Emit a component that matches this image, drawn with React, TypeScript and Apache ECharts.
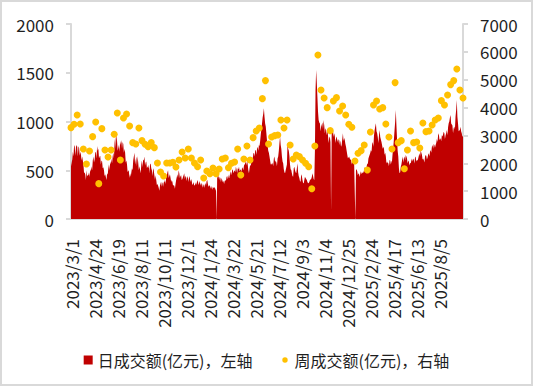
import React, { useEffect, useRef } from "react";
import * as echarts from "echarts";

// Exchange closures (weekdays) inside the plotted span
const holidays: string[] = [
  "2023-04-05", "2023-05-01", "2023-05-02", "2023-05-03", "2023-06-22", "2023-06-23",
  "2023-09-29", "2023-10-02", "2023-10-03", "2023-10-04", "2023-10-05", "2023-10-06",
  "2024-01-01", "2024-02-12", "2024-02-13", "2024-02-14", "2024-02-15", "2024-02-16",
  "2024-04-04", "2024-04-05", "2024-05-01", "2024-05-02", "2024-05-03", "2024-06-10",
  "2024-09-16", "2024-09-17", "2024-10-01", "2024-10-02", "2024-10-03", "2024-10-04",
  "2024-10-07", "2025-01-28", "2025-01-29", "2025-01-30", "2025-01-31", "2025-02-03",
  "2025-02-04", "2025-04-04", "2025-05-01", "2025-05-02", "2025-05-05", "2025-06-02",
];

// 日成交额(亿元) — daily, left axis
const daily2023: number[] = [
  540, 575, 610, 690, 640, 760, 740, 650, 735, 760,
  740, 640, 745, 730, 650, 690, 660, 600, 640, 600,
  560, 470, 480, 455, 400, 500, 440, 440, 455, 480,
  430, 510, 490, 540, 500, 600, 640, 580, 610, 680,
  690, 620, 750, 700, 720, 620, 640, 650, 560, 600,
  590, 520, 530, 500, 440, 460, 430, 400, 470, 455,
  520, 560, 500, 590, 560, 620, 570, 640, 680, 620,
  780, 840, 720, 880, 800, 700, 700, 760, 690, 800,
  760, 810, 720, 790, 770, 680, 720, 680, 580, 600,
  560, 480, 500, 486, 420, 470, 434, 480, 520, 500,
  600, 640, 680, 560, 600, 640, 540, 645, 580, 500,
  540, 505, 470, 560, 600, 530, 610, 600, 640, 550,
  580, 590, 520, 540, 520, 560, 470, 560, 570, 520,
  500, 440, 520, 500, 450, 400, 450, 400, 350, 360,
  340, 320, 290, 340, 380, 330, 380, 370, 330, 375,
  380, 400, 360, 430, 450, 480, 500, 420, 440, 460,
  420, 380, 400, 380, 340, 350, 340, 310, 360, 400,
  430, 460, 420, 500, 470, 420, 440, 450, 400, 410,
  430, 450, 470, 410, 440, 430, 390, 440, 420, 380,
  440, 420, 380, 410, 390, 350, 360, 380, 340, 350,
  360, 380, 350, 400, 385, 350,
];
const daily2024: number[] = [
  370, 390, 340, 370,
  360, 320, 360, 350, 320, 350, 370, 340, 390, 400,
  360, 330, 340, 345, 310, 340, 320, 300, 330, 320,
  315, 330, 290, 320, 0, 460, 420, 450, 400, 430,
  420, 380, 420, 400, 380, 390, 360, 390, 400, 390,
  430, 440, 410, 430, 460, 420, 470, 490, 450, 500,
  510, 470, 486, 500, 480, 537, 510, 470, 520, 510,
  537, 490, 500, 510, 480, 530, 520, 500, 550, 560,
  571, 590, 550, 605, 560, 500, 470, 520, 560, 540,
  600, 640, 600, 670, 680, 640, 700, 710, 660, 720,
  742, 700, 760, 750, 800, 870, 920, 980, 1040, 1080,
  1135, 1050, 980, 950, 880, 800, 760, 700, 680, 640,
  600, 560, 570, 554, 580, 540, 620, 640, 580, 600,
  580, 540, 620, 640, 700, 780, 845, 760, 720, 640,
  590, 571, 510, 480, 469, 500, 503, 560, 776, 720,
  700, 650, 560, 510, 503, 470, 440, 434, 520, 537,
  500, 480, 469, 520, 571, 480, 440, 420, 390, 383,
  460, 440, 400, 370, 366, 400, 434, 420, 410, 400,
  380, 366, 370, 380, 400, 400, 410, 430, 469, 440,
  410, 400, 700, 1320, 1529, 1400, 1255, 1100, 1016, 990,
  982, 900, 947, 950, 990, 920, 1016, 960, 880, 930,
  913, 860, 913, 860, 780, 830, 845, 790, 92, 913,
  900, 913, 840, 879, 850, 780, 830, 845, 790, 820,
  810, 760, 810, 790, 740, 760, 820, 879, 800, 830,
  810, 770, 742, 700, 660, 622, 630, 640, 620,
];
const daily2025: number[] = [
  610,
  605, 560, 610, 605, 560, 590, 588, 0, 503, 510,
  490, 450, 470, 460, 430, 470, 490, 460, 480, 469,
  480, 500, 537, 490, 503, 530, 571, 560, 620, 640,
  660, 680, 708, 690, 770, 790, 740, 860, 913, 950,
  982, 900, 879, 840, 780, 860, 913, 840, 840, 790,
  790, 720, 742, 720, 660, 680, 640, 570, 590, 575,
  571, 540, 605, 600, 560, 588, 600, 680, 742, 820,
  913, 1000, 1118, 960, 820, 700, 640, 520, 469, 480,
  537, 560, 600, 640, 580, 622, 640, 600, 657, 640,
  620, 570, 600, 588, 550, 575, 571, 600, 620, 590,
  620, 605, 570, 640, 630, 590, 605, 600, 620, 650,
  674, 640, 708, 680, 660, 610, 620, 605, 580, 640,
  657, 650, 610, 630, 660, 674, 640, 690, 708, 680,
  742, 760, 720, 770, 760, 730, 759, 780, 820, 790,
  860, 879, 820, 810, 830, 800, 860, 845, 870, 896,
  880, 820, 860, 880, 913, 860, 940, 982, 1000, 1040,
  1067, 980, 982, 960, 880, 930, 950, 920, 1050, 1118,
  1221, 1050, 980, 900, 900, 913, 947, 900, 880, 845, 850,
];
const dailyValues: number[] = [...daily2023, ...daily2024, ...daily2025];

// 周成交额(亿元) — weekly, right axis
const weeklyValues: number[] = [
  3280, 3400, 3735, 3411, 2514, 1975, 2442, 2957, 3483, 1269,
  3244, 2478, 2226, 2478, 3040, 3806, 2119, 3627, 3771, 3340,
  2741, 2693, 3268, 2813, 2681, 2597, 2741, 2562, 2011, 1688,
  1544, 2011, 2011, 2035, 1867, 2119, 2406, 2191, 2514, 2191,
  2011, 1879, 2119, 1472, 1724, 1628, 1831, 1628, 1796, 2155,
  2191, 1843, 1999, 2047, 2514, 1580, 2155, 2621, 2119, 2921,
  3160, 3268, 4321, 4968, 2693, 2945, 2993, 3016, 3555, 3268,
  3555, 2657, 2155, 2298, 2238, 2119, 1999, 1879, 1089, 2621,
  5889, 4632, 4345, 3998, 3172, 4237, 4357, 3878, 4058, 3735,
  3400, 3292, 2083, 2358, 2454, 2657, 1760, 3124, 4094, 4237,
  3950, 3998, 3411, 2945, 2514, 4896, 2741, 2813, 1807, 2478,
  3160, 2741, 2765, 2550, 3447, 3136, 3160, 3375, 3555, 3627,
  4249, 4094, 4453, 4824, 4968, 5387, 4632, 4345,
];

const seriesNames: string[] = ["日成交额(亿元)，左轴", "周成交额(亿元)，右轴"];
const leftAxisRange: number[] = [0, 2000, 500];
const rightAxisRange: number[] = [0, 7000, 1000];

function buildDates(n: number): string[] {
  const hol = new Set(holidays);
  const out: string[] = [];
  const d = new Date(Date.UTC(2023, 2, 1));
  while (out.length < n) {
    const wd = d.getUTCDay();
    const y = d.getUTCFullYear();
    const m = d.getUTCMonth() + 1;
    const day = d.getUTCDate();
    const key = `${y}-${String(m).padStart(2, "0")}-${String(day).padStart(2, "0")}`;
    if (wd !== 0 && wd !== 6 && !hol.has(key)) out.push(`${y}/${m}/${day}`);
    d.setUTCDate(day + 1);
  }
  return out;
}

const FONT = '"Noto Sans CJK SC", "Noto Sans", sans-serif';
const TEXT = "#1f1f1f";
const GRAY = "#d9d9d9";

export default function App() {
  const ref = useRef<HTMLDivElement>(null);
  useEffect(() => {
    if (!ref.current) return;
    const chart = echarts.init(ref.current, undefined, { renderer: "svg" });
    const dates = buildDates(dailyValues.length);
    const W = weeklyValues.length;
    const N = dates.length;
    const weekLabels = weeklyValues.map((_, i) => dates[Math.round((i * (N - 1)) / (W - 1))]);
    const plain = (v: number) => String(v);
    const option: any = {
      animation: false,
      textStyle: { fontFamily: FONT },
      graphic: [
        {
          type: "rect",
          silent: true,
          shape: { x: 1, y: 1, width: 531, height: 384 },
          style: { fill: "none", stroke: GRAY, lineWidth: 2 },
        },
      ],
      grid: { left: 71, right: 70, top: 24, bottom: 167, containLabel: false },
      legend: {
        top: 347,
        left: "center",
        itemWidth: 9,
        itemHeight: 9,
        itemGap: 28,
        textStyle: { fontSize: 16, color: TEXT, fontFamily: FONT },
        data: [
          { name: seriesNames[0], icon: "rect" },
          { name: seriesNames[1], icon: "path://M0,0M10,10M2,5a3,3 0 1,0 6,0a3,3 0 1,0 -6,0z" },
        ],
      },
      xAxis: [
        {
          type: "category",
          data: dates,
          boundaryGap: false,
          axisLine: { lineStyle: { color: GRAY, width: 2 } },
          axisTick: { show: false },
          axisLabel: {
            interval: 36,
            rotate: 90,
            margin: 20,
            fontSize: 17,
            color: TEXT,
            fontFamily: FONT,
            showMaxLabel: false,
          },
          splitLine: { show: false },
        },
        {
          type: "category",
          data: weekLabels,
          boundaryGap: false,
          show: false,
          position: "bottom",
        },
      ],
      yAxis: [
        {
          type: "value",
          min: leftAxisRange[0],
          max: leftAxisRange[1],
          interval: leftAxisRange[2],
          splitLine: { show: false },
          axisLine: { show: true, lineStyle: { color: GRAY, width: 2 } },
          axisTick: { show: true, length: 5, lineStyle: { color: GRAY, width: 2 } },
          axisLabel: { fontSize: 17, color: TEXT, margin: 17, fontFamily: FONT, formatter: plain },
        },
        {
          type: "value",
          position: "right",
          min: rightAxisRange[0],
          max: rightAxisRange[1],
          interval: rightAxisRange[2],
          splitLine: { show: false },
          axisLine: { show: true, lineStyle: { color: GRAY, width: 2 } },
          axisTick: { show: true, length: 5, lineStyle: { color: GRAY, width: 2 } },
          axisLabel: { fontSize: 17, color: TEXT, margin: 17, fontFamily: FONT, formatter: plain },
        },
      ],
      series: [
        {
          name: seriesNames[0],
          type: "line",
          data: dailyValues,
          xAxisIndex: 0,
          yAxisIndex: 0,
          symbol: "none",
          showSymbol: false,
          lineStyle: { width: 0, color: "#C00000" },
          itemStyle: { color: "#C00000" },
          areaStyle: { color: "#C00000", opacity: 1 },
          z: 2,
        },
        {
          name: seriesNames[1],
          type: "scatter",
          data: weeklyValues,
          xAxisIndex: 1,
          yAxisIndex: 1,
          symbolSize: 7,
          itemStyle: { color: "#FFC000", opacity: 1 },
          z: 3,
        },
      ],
    };
    chart.setOption(option);
    return () => chart.dispose();
  }, []);
  return (
    <div
      ref={ref}
      style={{ position: "fixed", left: 0, top: 0, width: 533, height: 386, background: "#fff" }}
    />
  );
}
